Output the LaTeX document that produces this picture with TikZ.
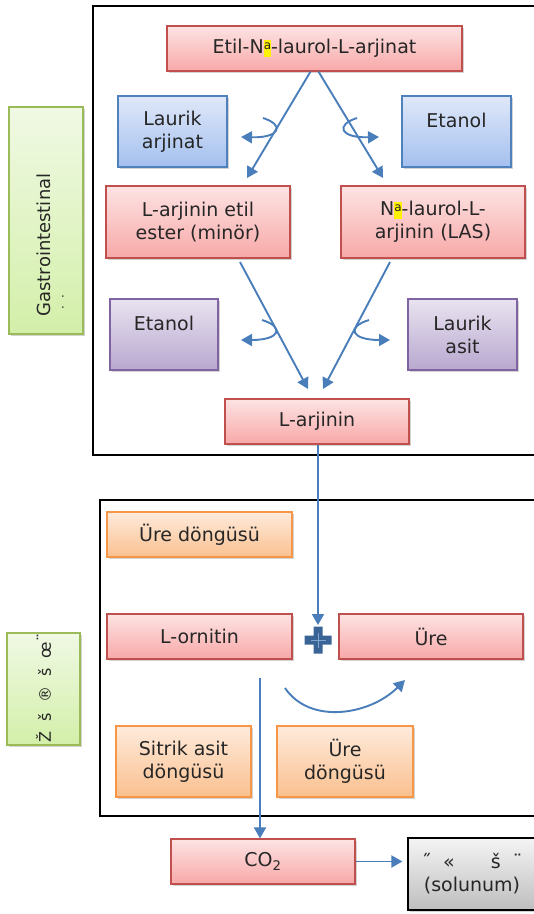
\documentclass[tikz,border=0pt]{standalone}
\usepackage{fontspec}
\setmainfont{DejaVu Sans}
\usetikzlibrary{shadows,arrows.meta}
\definecolor{rtop}{HTML}{FDE3E3}\definecolor{rbot}{HTML}{F8A8A8}\definecolor{rbd}{HTML}{C0504D}
\definecolor{btop}{HTML}{DFE8F8}\definecolor{bbot}{HTML}{A4C0EF}\definecolor{bbd}{HTML}{4F81BD}
\definecolor{ptop}{HTML}{E9E3F0}\definecolor{pbot}{HTML}{B8A8CF}\definecolor{pbd}{HTML}{8064A2}
\definecolor{otop}{HTML}{FEEBDC}\definecolor{obot}{HTML}{FAC08F}\definecolor{obd}{HTML}{F79646}
\definecolor{gtop}{HTML}{F0F9E4}\definecolor{gbot}{HTML}{D3EFA9}\definecolor{gbd}{HTML}{9BBB59}
\definecolor{atop}{HTML}{F4F4F4}\definecolor{abot}{HTML}{BEBEBE}
\definecolor{arr}{HTML}{4A7EBB}\definecolor{plusc}{HTML}{3A6496}
\tikzset{
 bx/.style={draw, line width=1.2pt, drop shadow={opacity=0.35,shadow xshift=1.5pt,shadow yshift=-2pt},
   font=\fontsize{19}{23}\selectfont, align=center, inner sep=0pt, text=black!85},
 red/.style={bx, draw=rbd, top color=rtop, bottom color=rbot},
 blu/.style={bx, draw=bbd, top color=btop, bottom color=bbot},
 pur/.style={bx, draw=pbd, top color=ptop, bottom color=pbot},
 ora/.style={bx, draw=obd, top color=otop, bottom color=obot},
 grn/.style={bx, draw=gbd, top color=gtop, bottom color=gbot},
 gry/.style={bx, draw=black, top color=atop, bottom color=abot},
 vtxt/.style={rotate=90, text=black!85, inner sep=0pt},
 ar/.style={draw=arr, line width=1.9pt, -{Triangle[length=11pt,width=12pt]}},
 fr/.style={draw=black, line width=1.2pt},
}
\newcommand{\supa}{\colorbox{yellow}{\hspace{-3pt}\raisebox{4pt}{\fontsize{12}{12}\selectfont a}\hspace{-3pt}}}
\begin{document}
\begin{tikzpicture}[x=1pt,y=-1pt]
\useasboundingbox (0,0) rectangle (534,914);
% frames
\draw[fr] (93,6) rectangle (540,455);
\draw[fr] (100,500) rectangle (540,816);
% nodes
\node[red, minimum width=295pt, minimum height=45pt] (top) at (314.5,48.5) {Etil-N\supa-laurol-L-arjinat};
\node[blu, minimum width=109pt, minimum height=71pt] (la) at (172.5,131.5) {Laurik\\arjinat};
\node[blu, minimum width=109pt, minimum height=71pt] (et1) at (456.5,131.5) {\raisebox{22pt}{Etanol}};
\node[red, minimum width=184pt, minimum height=72pt] (ester) at (198,222) {L-arjinin etil\\ester (minör)};
\node[red, minimum width=184pt, minimum height=72pt] (las) at (433,222) {N\supa-laurol-L-\\arjinin (LAS)};
\node[pur, minimum width=108pt, minimum height=71pt] (et2) at (164,334.5) {\raisebox{22pt}{Etanol}};
\node[pur, minimum width=109pt, minimum height=71pt] (lasit) at (462.5,334.5) {Laurik\\asit};
\node[red, minimum width=184pt, minimum height=45pt] (larj) at (317,421.5) {L-arjinin};
\node[grn, minimum width=74pt, minimum height=227pt, font=\fontsize{18}{22}\selectfont] (gi) at (46,220.5)
  {\hspace*{-5pt}\rotatebox{90}{Gastrointestinal\hspace*{49pt}}};
\node[vtxt, font=\fontsize{12}{12}\selectfont] (gidots) at (63,302) {.\ \ .};
\node[ora, minimum width=185pt, minimum height=45pt] (ure1) at (199.5,534.5) {Üre döngüsü};
\node[red, minimum width=185pt, minimum height=45pt] (orn) at (199.5,636.5) {L-ornitin};
\node[red, minimum width=184pt, minimum height=45pt] (ure) at (431,636.5) {Üre};
\node[ora, minimum width=135pt, minimum height=71pt] (sit) at (183.5,761.5) {Sitrik asit\\döngüsü};
\node[ora, minimum width=136pt, minimum height=71pt] (ure2) at (345,761.5) {Üre\\döngüsü};
\node[grn, minimum width=73pt, minimum height=112pt, font=\fontsize{16}{18}\selectfont] (sys) at (43.5,689)
  {\rotatebox{90}{\hspace*{2pt}Ž\ \ š\ \ ®\ \ š\ \ œ\raisebox{2pt}{¨}}};
\node[red, minimum width=184pt, minimum height=45pt] (co2) at (263,861.5) {CO\textsubscript{2}};
\node[gry, minimum width=140pt, minimum height=72pt] (sol) at (478,874) {\hspace*{-12pt}˝\ \ «\ \ \ \ \ \ š\ \ ¨\\\hspace*{-12pt}(solunum)};
% plus sign
\coordinate (plus) at (318,640);
\fill[plusc] (plus) ++(-4.5,-13.5) -- ++(9,0) -- ++(0,9) -- ++(9,0) -- ++(0,9) -- ++(-9,0) -- ++(0,9)
  -- ++(-9,0) -- ++(0,-9) -- ++(-9,0) -- ++(0,-9) -- ++(9,0) -- cycle;
\draw[arr!70, line width=0.8pt] (plus) ++(0,-7.5) -- ++(0,15) (plus) ++(-7.5,0) -- ++(15,0);
% arrows
\draw[ar] (top.south) ++(-4,0) -- (247,178);
\draw[ar] (top.south) ++(4,0) -- (383,178);
\draw[ar] (240,262) -- (308,389);
\draw[ar] (390,262) -- (323,389);
\draw[ar] (larj.south -| plus) -- ([yshift=15pt]plus);
\draw[ar] (260,678) -- (co2.north -| 260,0);
\draw[ar] (co2.east) -- ([xshift=-5pt]sol.west |- co2.east);
\draw[ar] (285,688) .. controls (310,725) and (370,715) .. (405,680);
% small curved arrows
\draw[ar] (263,118) .. controls (285,125) and (280,138) .. (241,137);
\draw[ar] (357,118) .. controls (335,125) and (340,138) .. (379,137);
\draw[ar] (262,320) .. controls (285,327) and (280,340) .. (241,340);
\draw[ar] (369,320) .. controls (346,327) and (351,340) .. (390,340);
\end{tikzpicture}
\end{document}
